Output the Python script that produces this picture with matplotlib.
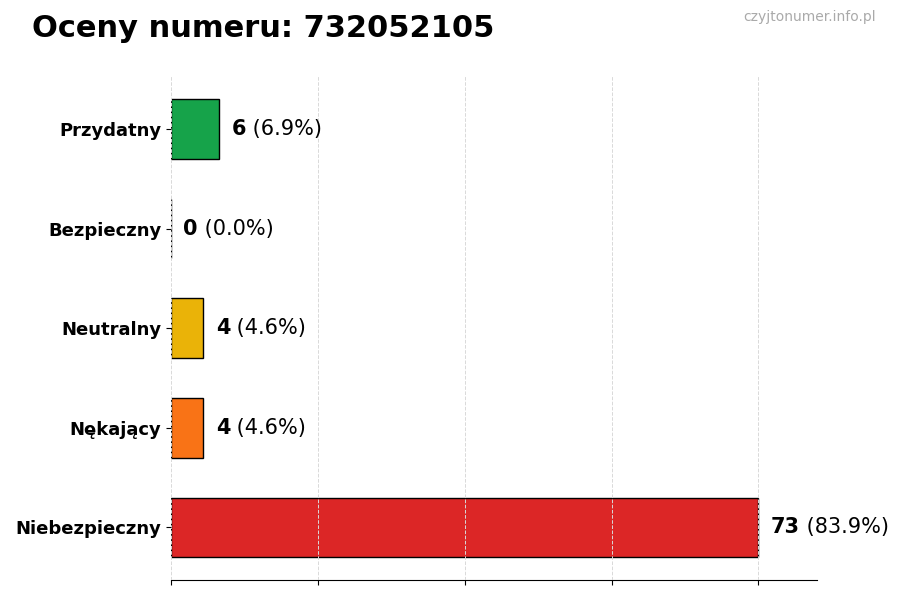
import numpy as np
import matplotlib
matplotlib.use('Agg')
import matplotlib.pyplot as plt

# rating data (top to bottom as shown)
categories = ['Przydatny', 'Bezpieczny', 'Neutralny', 'Nękający', 'Niebezpieczny']
counts = [6, 0, 4, 4, 73]
colors = ['#16a34a', '#2563eb', '#eab308', '#f97316', '#dc2626']
title = 'Oceny numeru: 732052105'
watermark = 'czyjtonumer.info.pl'

total = sum(counts)
ypos = np.arange(len(categories))[::-1]

fig = plt.figure(figsize=(9, 6), dpi=100)
ax = fig.add_axes([0.19, 0.033, 0.718, 0.84])

ax.barh(ypos, counts, height=0.6, color=colors, edgecolor='black', linewidth=1, zorder=2)

ax.set_yticks(ypos)
ax.set_yticklabels(categories, fontsize=13, fontweight='bold')
xmax = max(counts)
ax.set_xlim(0, xmax * 1.1)
ax.set_xticks(np.linspace(0, xmax, 5))
ax.set_xticklabels([])
ax.grid(axis='x', linestyle='--', color='#d9d9d9', linewidth=0.7, zorder=3)
ax.set_axisbelow(False)

for s in ['top', 'right', 'left']:
    ax.spines[s].set_visible(False)

# value labels: bold count + normal percentage
for y, c in zip(ypos, counts):
    t = ax.annotate(str(c), xy=(c, y), xytext=(9, 0), textcoords='offset points',
                    va='center', ha='left', fontsize=15, fontweight='bold')
    ax.annotate(f' ({c / total * 100:.1f}%)', xy=(1, 0.5), xycoords=t,
                va='center', ha='left', fontsize=15)

fig.text(0.035, 0.952, title, fontsize=22, fontweight='bold', va='center', ha='left')
fig.text(0.973, 0.972, watermark, fontsize=10, color='#aaaaaa', va='center', ha='right')

plt.savefig('out.png', dpi=100)
